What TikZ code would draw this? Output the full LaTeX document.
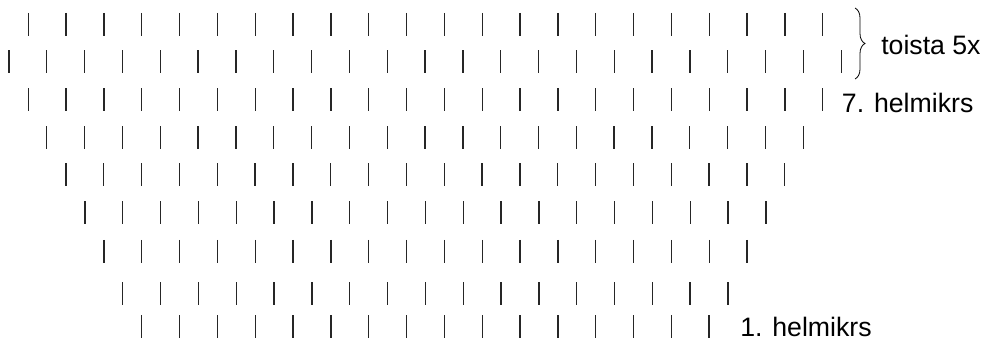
\documentclass[tikz,border=0pt]{standalone}
\usepackage{fontspec}
\setmainfont{Liberation Sans}
\usetikzlibrary{decorations.pathreplacing}

\begin{document}
\begin{tikzpicture}[x=0.75pt,y=-0.75pt,
bead/.style={line width=1pt,draw=black!85},
rowlab/.style={anchor=base west,inner sep=0pt,font=\fontsize{20}{24}\selectfont},
repbrace/.style={decorate,decoration={brace,amplitude=7.5pt},line width=0.6pt}]
\useasboundingbox (0,0) rectangle (982,342);
% rows of beads: centre y / first x / count
\foreach \y/\xs/\n in {24.5/28.3/22,61.7/9/23,99.8/28.3/22,137.7/46.7/21,175/66/20,
  213/85/19,251.3/104/18,293.7/122.7/17,326.7/141.7/16}
  \foreach \k in {1,...,\n}
    \draw[bead] ({\xs+(\k-1)*37.83},{\y-11.5}) -- ++(0,23);
\coordinate (btop) at (855,8);
\coordinate (bbot) at (855,79);
\draw[repbrace] (btop) -- (bbot);
\node[rowlab] (repeat) at (881,54.3) {toista 5x};
\node[rowlab] (round7) at (841.7,112.7) {7. helmikrs};
\node[rowlab] (round1) at (740,336.7) {1. helmikrs};
\end{tikzpicture}
\end{document}
